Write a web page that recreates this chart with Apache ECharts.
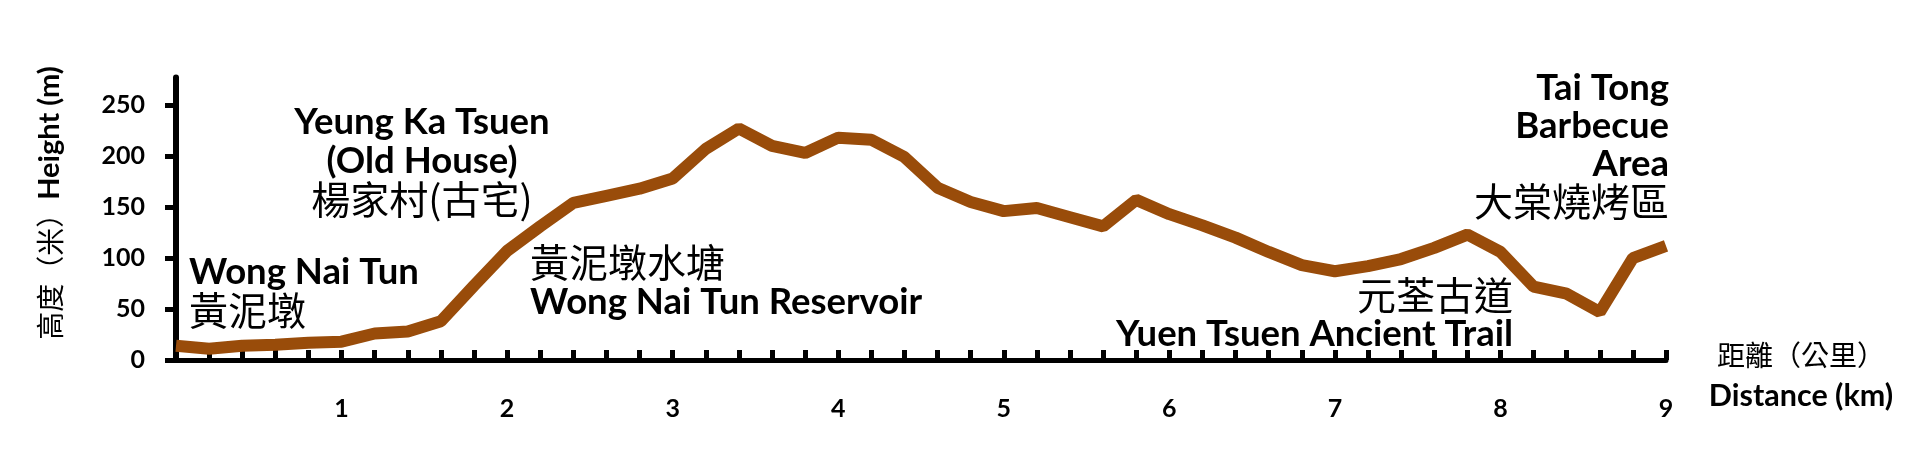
<!DOCTYPE html>
<html><head><meta charset="utf-8">
<script src="https://cdn.jsdelivr.net/npm/echarts@6.0.0/dist/echarts.min.js"></script>
<style>html,body{margin:0;padding:0;background:#fff}#c{width:1926px;height:474px}</style>
</head><body><div id="c"></div>
<script>
// Distance along the trail (km)
const distances = [0, 0.2, 0.4, 0.6, 0.8, 1.0, 1.2, 1.4, 1.6, 1.8, 2.0, 2.2, 2.4, 2.6, 2.8, 3.0,
  3.2, 3.4, 3.6, 3.8, 4.0, 4.2, 4.4, 4.6, 4.8, 5.0, 5.2, 5.4, 5.6, 5.8, 6.0,
  6.2, 6.4, 6.6, 6.8, 7.0, 7.2, 7.4, 7.6, 7.8, 8.0, 8.2, 8.4, 8.6, 8.8, 9.0];
// Height (m)
const heights = [14, 11, 14, 15, 17, 18, 26, 28, 38, 73, 107, 131, 154, 161, 168, 178,
  207, 227, 210, 203, 218, 216, 199, 169, 155, 146, 149, 140, 131, 157, 143,
  132, 120, 106, 93, 87, 92, 99, 110, 123, 106, 72, 65, 47, 100, 112];
const yTickValues = [0, 50, 100, 150, 200, 250];
const xLabelValues = [1, 2, 3, 4, 5, 6, 7, 8, 9];
const yTitleCJK = '高度（米）';
const yTitleEN = 'Height (m)';
const xTitleCJK = '距離（公里）';
const xTitleEN = 'Distance (km)';

const EN = 'Lato, "Open Sans", sans-serif';
const CJK = '"Noto Sans CJK TC", "Noto Sans CJK SC", sans-serif';
const EN_SIZE = 36.5;
const CJK_SIZE = 39;

function enText(t, x, y, align) {
  return {type: 'text', x: x, y: y, z: 10, style: {text: t, fill: '#000', fontFamily: EN, fontWeight: 'bold', fontSize: EN_SIZE, align: align, verticalAlign: 'middle'}};
}
function zhText(t, x, y, align, size) {
  return {type: 'text', x: x, y: y, z: 10, style: {text: t, fill: '#000', fontFamily: CJK, fontWeight: 'normal', fontSize: size || CJK_SIZE, align: align, verticalAlign: 'middle'}};
}

const chart = echarts.init(document.getElementById('c'), null, {renderer: 'canvas'});
chart.setOption({
  animation: false,
  backgroundColor: '#fff',
  grid: [
    {left: 176, right: 260, top: 77.5, bottom: 114, containLabel: false},
    {left: 176, right: 260, top: 105, bottom: 114, containLabel: false}
  ],
  xAxis: [{
    gridIndex: 0, type: 'value', min: 0, max: 9, interval: 1,
    axisLine: {show: true, onZero: false, lineStyle: {color: '#000', width: 5}},
    axisTick: {show: true, inside: true, length: 10, lineStyle: {color: '#000', width: 5}},
    minorTick: {show: true, splitNumber: 5, length: 10, lineStyle: {color: '#000', width: 5}},
    splitLine: {show: false}, minorSplitLine: {show: false},
    axisLabel: {margin: 36, color: '#000', fontFamily: EN, fontWeight: 'bold', fontSize: 25,
      formatter: v => (xLabelValues.indexOf(v) >= 0 ? String(v) : '')}
  }, {
    gridIndex: 1, type: 'value', min: 0, max: 9, show: false
  }],
  yAxis: [{
    gridIndex: 0, type: 'value', min: 0, max: 277, interval: 50,
    axisLine: {show: true, lineStyle: {color: '#000', width: 6}},
    axisTick: {show: false}, axisLabel: {show: false}, splitLine: {show: false}
  }, {
    gridIndex: 1, type: 'value', min: 0, max: 250, interval: 50,
    axisLine: {show: false},
    axisTick: {show: true, length: 11, lineStyle: {color: '#000', width: 5}},
    splitLine: {show: false},
    axisLabel: {margin: 31, color: '#000', fontFamily: EN, fontWeight: 'bold', fontSize: 25,
      formatter: v => (yTickValues.indexOf(v) >= 0 ? String(v) : '')}
  }],
  series: [{
    type: 'line', xAxisIndex: 0, yAxisIndex: 0,
    data: distances.map((d, i) => [d, heights[i]]),
    symbol: 'none', showSymbol: false,
    lineStyle: {color: '#994c0a', width: 12},
    clip: false, z: 3
  }],
  graphic: [
    enText('Wong Nai Tun', 189, 272, 'left'),
    zhText('黃泥墩', 189, 310, 'left'),
    enText('Yeung Ka Tsuen', 422, 122, 'center'),
    enText('(Old House)', 422, 161, 'center'),
    zhText('楊家村(古宅)', 422, 199, 'center'),
    zhText('黃泥墩水塘', 530, 262, 'left'),
    enText('Wong Nai Tun Reservoir', 530, 302, 'left'),
    enText('Tai Tong', 1669, 88, 'right'),
    enText('Barbecue', 1669, 126, 'right'),
    enText('Area', 1669, 164, 'right'),
    zhText('大棠燒烤區', 1669, 201, 'right'),
    zhText('元荃古道', 1513, 295, 'right'),
    enText('Yuen Tsuen Ancient Trail', 1513, 334, 'right'),
    zhText(xTitleCJK, 1801, 355, 'center', 28),
    {type: 'text', x: 1801, y: 396, z: 10, style: {text: xTitleEN, fill: '#000', fontFamily: EN, fontWeight: 'bold', fontSize: 30.5, align: 'center', verticalAlign: 'middle'}},
    {type: 'text', x: 50, y: 203, rotation: Math.PI / 2, z: 10,
      style: {text: '{c|' + yTitleCJK + '}{e|' + yTitleEN + '}', fill: '#000', align: 'center', verticalAlign: 'middle',
        rich: {c: {fontFamily: CJK, fontSize: 28, fontWeight: 'normal', fill: '#000'},
               e: {fontFamily: EN, fontSize: 29, fontWeight: 'bold', fill: '#000'}}}}
  ]
});
</script>
</body></html>
